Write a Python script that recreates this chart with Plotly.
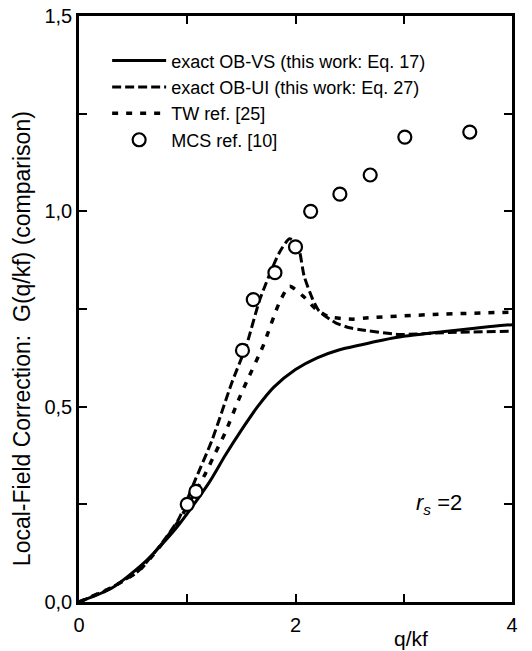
import plotly.graph_objects as go

# ---- data ----
q_vs = [0.0, 0.3, 0.6, 0.9, 1.2, 1.35, 1.5, 1.65, 1.8, 2.0, 2.2, 2.4, 2.6, 2.8, 3.0, 3.4, 3.8, 4.0]
g_vs = [0.0, 0.035, 0.10, 0.19, 0.305, 0.375, 0.44, 0.50, 0.55, 0.595, 0.625, 0.645, 0.658, 0.67, 0.68, 0.693, 0.705, 0.71]

q_ui = [0.0, 0.3, 0.55, 0.75, 0.92, 1.07, 1.23, 1.41, 1.55, 1.67, 1.85, 1.945, 2.02, 2.08, 2.16, 2.22, 2.375, 2.5, 2.6, 2.96, 3.42, 4.0]
g_ui = [0.0, 0.037, 0.08, 0.145, 0.212, 0.31, 0.415, 0.56, 0.66, 0.774, 0.894, 0.93, 0.915, 0.834, 0.774, 0.744, 0.714, 0.702, 0.697, 0.685, 0.69, 0.693]

q_tw = [0.0, 0.3, 0.55, 0.75, 0.92, 1.05, 1.17, 1.26, 1.35, 1.475, 1.55, 1.70, 1.85, 1.945, 2.07, 2.19, 2.31, 2.53, 2.65, 3.27, 4.0]
g_tw = [0.0, 0.037, 0.079, 0.143, 0.207, 0.27, 0.33, 0.382, 0.433, 0.518, 0.565, 0.655, 0.766, 0.808, 0.783, 0.749, 0.73, 0.724, 0.727, 0.736, 0.742]

q_mcs = [1.0, 1.08, 1.51, 1.61, 1.81, 2.0, 2.14, 2.41, 2.69, 3.01, 3.61]
g_mcs = [0.25, 0.283, 0.644, 0.774, 0.843, 0.909, 1.0, 1.044, 1.093, 1.19, 1.203]

x_tickvals = [0, 1, 2, 3, 4]
x_ticktext = ["0", "", "2", "", "4"]
y_tickvals = [0.0, 0.25, 0.5, 0.75, 1.0, 1.25, 1.5]
y_ticktext = ["0,0", "", "0,5", "", "1,0", "", "1,5"]

names = ["exact OB-VS (this work: Eq. 17)", "exact OB-UI (this work: Eq. 27)",
         "TW ref. [25]", "MCS ref. [10]"]

FONT = "Liberation Sans, Arial, Helvetica, sans-serif"

fig = go.Figure()
fig.add_trace(go.Scatter(x=q_vs, y=g_vs, mode="lines", name=names[0], legendgroup="a",
                         line=dict(color="black", width=3, shape="spline", smoothing=0.7)))
fig.add_trace(go.Scatter(x=q_ui, y=g_ui, mode="lines", name=names[1], legendgroup="b",
                         line=dict(color="black", width=3, dash="9px,4px", shape="spline", smoothing=0.6)))
fig.add_trace(go.Scatter(x=q_tw, y=g_tw, mode="lines", name=names[2], legendgroup="c",
                         line=dict(color="black", width=3.5, dash="6px,8px", shape="spline", smoothing=0.6)))
fig.add_trace(go.Scatter(x=q_mcs, y=g_mcs, mode="markers", name=names[3], legendgroup="d",
                         marker=dict(symbol="circle", size=13, color="white",
                                     line=dict(color="black", width=2.2))))

axis_common = dict(showgrid=False, zeroline=False, showline=True, linecolor="black", linewidth=2.5,
                   mirror="ticks", ticks="inside", ticklen=8, tickwidth=2, tickcolor="black",
                   automargin=False, ticklabeloverflow="allow",
                   tickfont=dict(family=FONT, size=20, color="black"))

fig.update_xaxes(range=[0, 4], tickmode="array", tickvals=x_tickvals, ticktext=x_ticktext,
                 ticklabelstandoff=3, **axis_common)
fig.update_yaxes(range=[0, 1.5], tickmode="array", tickvals=y_tickvals, ticktext=y_ticktext,
                 **axis_common)

fig.add_annotation(text="Local-Field Correction:  G(q/kf) (comparison)", textangle=-90,
                   xref="paper", yref="paper", x=-0.131, y=0.449, xanchor="center", yanchor="middle",
                   showarrow=False, font=dict(family=FONT, size=23, color="black"))
fig.add_annotation(text="q/kf", xref="x", yref="paper", x=3.07, y=-0.062,
                   xanchor="center", yanchor="middle", showarrow=False,
                   font=dict(family=FONT, size=21, color="black"))
fig.add_annotation(text="<i>r</i><sub><i>s</i></sub> =2", xref="x", yref="y", x=3.33, y=0.25,
                   xanchor="center", yanchor="middle", showarrow=False,
                   font=dict(family=FONT, size=22, color="black"))

# the page body has an 8px margin, so the figure is shrunk by that amount
fig.update_layout(
    width=524, height=643,
    margin=dict(l=71, r=20, t=8, b=49, autoexpand=False),
    paper_bgcolor="white", plot_bgcolor="white",
    font=dict(family=FONT, color="black"),
    showlegend=True,
    legend=dict(x=0.065, y=0.955, xanchor="left", yanchor="top", bgcolor="rgba(0,0,0,0)",
                font=dict(family=FONT, size=18, color="black"), itemwidth=54,
                traceorder="grouped", tracegroupgap=0),
)

fig.write_html("out.html")
